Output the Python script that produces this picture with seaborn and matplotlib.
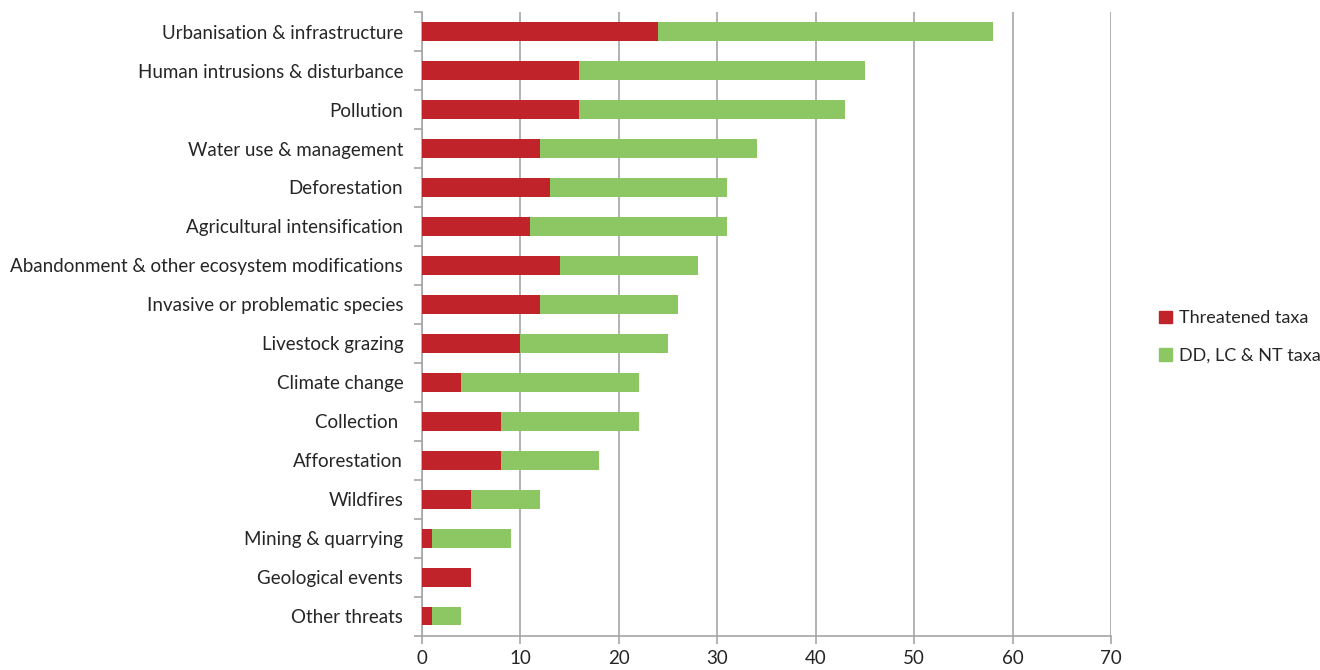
import pandas as pd
import matplotlib.pyplot as plt
import seaborn as sns
from matplotlib.patches import Patch

sns.set_style('white')
plt.rcParams['font.family'] = ['Lato', 'DejaVu Sans']

# ----------------------------------------
# Data
# ----------------------------------------
threats = ["Urbanisation & infrastructure", "Human intrusions & disturbance",
           "Pollution", "Water use & management", "Deforestation",
           "Agricultural intensification",
           "Abandonment & other ecosystem modifications",
           "Invasive or problematic species", "Livestock grazing",
           "Climate change", "Collection ", "Afforestation", "Wildfires",
           "Mining & quarrying", "Geological events", "Other threats"]
threatened = [24, 16, 16, 12, 13, 11, 14, 12, 10, 4, 8, 8, 5, 1, 5, 1]
dd_lc_nt = [34, 29, 27, 22, 18, 20, 14, 14, 15, 18, 14, 10, 7, 8, 0, 3]

df = pd.DataFrame({"Threat": threats, "Threatened": threatened, "Other": dd_lc_nt})
df["Total"] = df["Threatened"] + df["Other"]

red = '#C1232B'
green = '#8CC764'
grid = '#A6A6A6'

fig = plt.figure(figsize=(13.2, 6.7), dpi=100)
ax = fig.add_axes([0.3197, 0.051, 0.522, 0.931])

# stacked: total in green, threatened over it in red
sns.barplot(data=df, y='Threat', x='Total', color=green, orient='h',
            width=0.47, saturation=1, linewidth=0, ax=ax, zorder=3)
sns.barplot(data=df, y='Threat', x='Threatened', color=red, orient='h',
            width=0.47, saturation=1, linewidth=0, ax=ax, zorder=4)

ax.set_xlim(0, 70)
ax.set_ylim(len(threats) - 0.5, -0.5)
ax.set_xticks(range(0, 71, 10))
ax.set_xlabel('')
ax.set_ylabel('')
ax.grid(axis='x', color=grid, linewidth=1.2, zorder=0)
ax.set_axisbelow(True)

for s in ['top', 'right']:
    ax.spines[s].set_visible(False)
for s in ['left', 'bottom']:
    ax.spines[s].set_color(grid)
    ax.spines[s].set_linewidth(1.2)

# category boundary ticks on y, gridline ticks on x
ax.set_yticks([i + 0.5 for i in range(-1, len(threats))], minor=True)
ax.tick_params(axis='y', which='minor', left=True, length=6, color=grid, width=1.2)
ax.tick_params(axis='y', which='major', left=False, labelsize=13.5, pad=10)
ax.tick_params(axis='x', bottom=True, length=6, color=grid, width=1.2,
               labelsize=13.5, pad=4)

handles = [Patch(color=red, label='Threatened taxa'),
           Patch(color=green, label='DD, LC & NT taxa')]
fig.legend(handles=handles, loc='center left', bbox_to_anchor=(0.866, 0.497),
           frameon=False, fontsize=13, handlelength=0.7, handleheight=0.7,
           handletextpad=0.4, labelspacing=1.2)

fig.savefig('out.png', dpi=100)
